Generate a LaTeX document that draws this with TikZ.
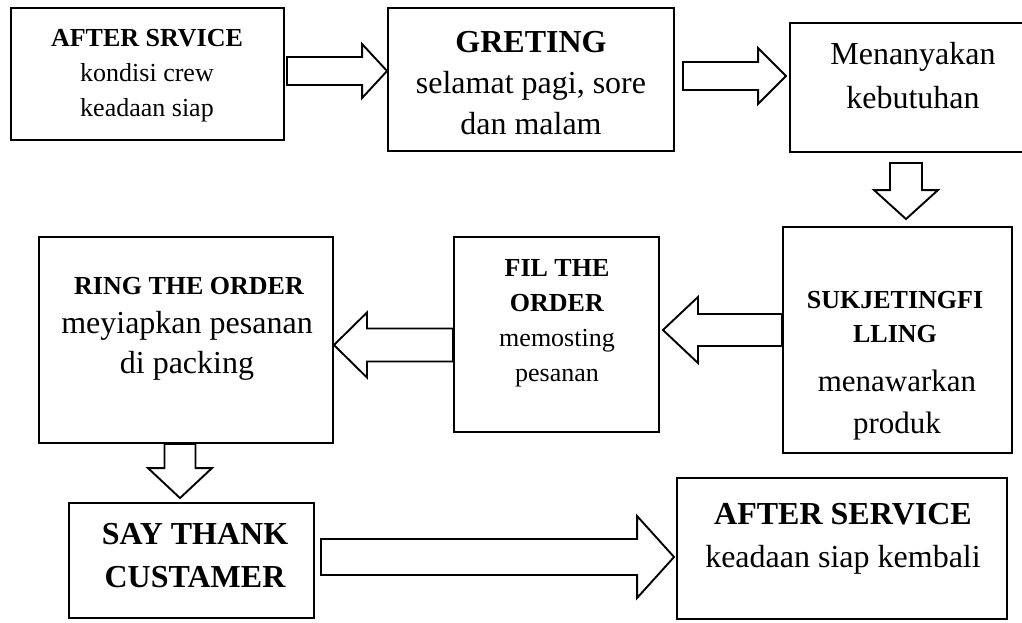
\documentclass[tikz,border=0pt]{standalone}
\usepackage{fontspec}
\setmainfont{Liberation Serif}
\usetikzlibrary{calc}
\newcommand\fsz[2]{\fontsize{#1}{#2}\selectfont}
% horizontal block arrow: start, end(tip), shaft half, head half, head length (signed)
\newcommand\harrow[5]{\draw[blk] ($(#1)+(0,-#3)$) -- ($(#2)+({-(#5)},-#3)$) -- ($(#2)+({-(#5)},-#4)$) -- (#2) -- ($(#2)+({-(#5)},#4)$) -- ($(#2)+({-(#5)},#3)$) -- ($(#1)+(0,#3)$) -- cycle;}
% vertical block arrow (downwards)
\newcommand\varrow[5]{\draw[blk] ($(#1)+(-#3,0)$) -- ($(#2)+(-#3,{-(#5)})$) -- ($(#2)+(-#4,{-(#5)})$) -- (#2) -- ($(#2)+(#4,{-(#5)})$) -- ($(#2)+(#3,{-(#5)})$) -- ($(#1)+(#3,0)$) -- cycle;}
\begin{document}
\begin{tikzpicture}[x=1pt,y=-1pt,
  box/.style args={#1x#2}{draw,line width=1.9pt,minimum width=#1pt,minimum height=#2pt,inner sep=0pt},
  blk/.style={draw,line width=1.9pt,fill=white,line join=miter},
  txt/.style={align=center,inner sep=0pt}]
\useasboundingbox (0,0) rectangle (1022,622);
% boxes
\node[box=273x132] (b1) at (147.5,74) {};
\node[box=286x143] (b2) at (531,79.5) {};
\node[box=240x129] (b3) at (910,87.5) {};
\node[box=229x226] (b4) at (897.5,340) {};
\node[box=205x195] (b5) at (556.5,334.5) {};
\node[box=294x206] (b6) at (186,340) {};
\node[box=245x115] (b7) at (191.5,560.5) {};
\node[box=330x141] (b8) at (842,548.5) {};
% texts
\node[txt,font=\fsz{26}{35}] (t1) at (147,76) {\textbf{AFTER SRVICE}\\kondisi crew\\keadaan siap};
\node[txt,font=\fsz{32}{41}] (t2) at (531,83) {\textbf{GRETING}\\selamat pagi, sore\\dan malam};
\node[txt,font=\fsz{32}{44}] (t3) at (913,76) {Menanyakan\\kebutuhan};
\node[txt,font=\fsz{26}{34}\bfseries] (t4a) at (895,317) {SUKJETINGFI\\LLING};
\node[txt,font=\fsz{31}{42}] (t4b) at (897,405) {menawarkan\\produk};
\node[txt,font=\fsz{26}{35}] (t5) at (557,323) {\textbf{FIL THE}\\\textbf{ORDER}\\memosting\\pesanan};
\node[txt,font=\fsz{26}{34}\bfseries] (t6a) at (189,286) {RING THE ORDER};
\node[txt,font=\fsz{32}{40}] (t6b) at (187,346) {meyiapkan pesanan\\di packing};
\node[txt,font=\fsz{32}{43}\bfseries] (t7) at (195,556) {SAY THANK\\CUSTAMER};
\node[txt,font=\fsz{32}{43}] (t8) at (843,539) {\textbf{AFTER SERVICE}\\keadaan siap kembali};
% arrow end points
\coordinate (a1s) at ($(b1.east |- 0,71)+(2,0)$);
\coordinate (a1e) at (b2.west |- 0,71);
\coordinate (a2s) at ($(b2.east |- 0,76)+(8,0)$);
\coordinate (a2e) at ($(b3.west |- 0,76)+(-3,0)$);
\coordinate (a3s) at ($(b3.south -| 906,0)+(0,10)$);
\coordinate (a3e) at ($(b4.north -| 906,0)+(0,-7)$);
\coordinate (a4s) at (b4.west |- 0,330);
\coordinate (a4e) at ($(b5.east |- 0,330)+(3,0)$);
\coordinate (a5s) at (b5.west |- 0,345);
\coordinate (a5e) at (b6.east |- 0,345);
\coordinate (a6s) at (b6.south -| 180,0);
\coordinate (a6e) at ($(b7.north -| 180,0)+(0,-4)$);
\coordinate (a7s) at ($(b7.east |- 0,557)+(6,0)$);
\coordinate (a7e) at ($(b8.west |- 0,557)+(-2,0)$);
% block arrows
\harrow{a1s}{a1e}{14}{27}{25}
\harrow{a2s}{a2e}{14}{28}{28}
\varrow{a3s}{a3e}{16}{32}{29}
\harrow{a4s}{a4e}{16}{33}{-35}
\harrow{a5s}{a5e}{16.5}{32.5}{-33}
\varrow{a6s}{a6e}{15.5}{32}{30}
\harrow{a7s}{a7e}{18}{41}{37}
\end{tikzpicture}
\end{document}
